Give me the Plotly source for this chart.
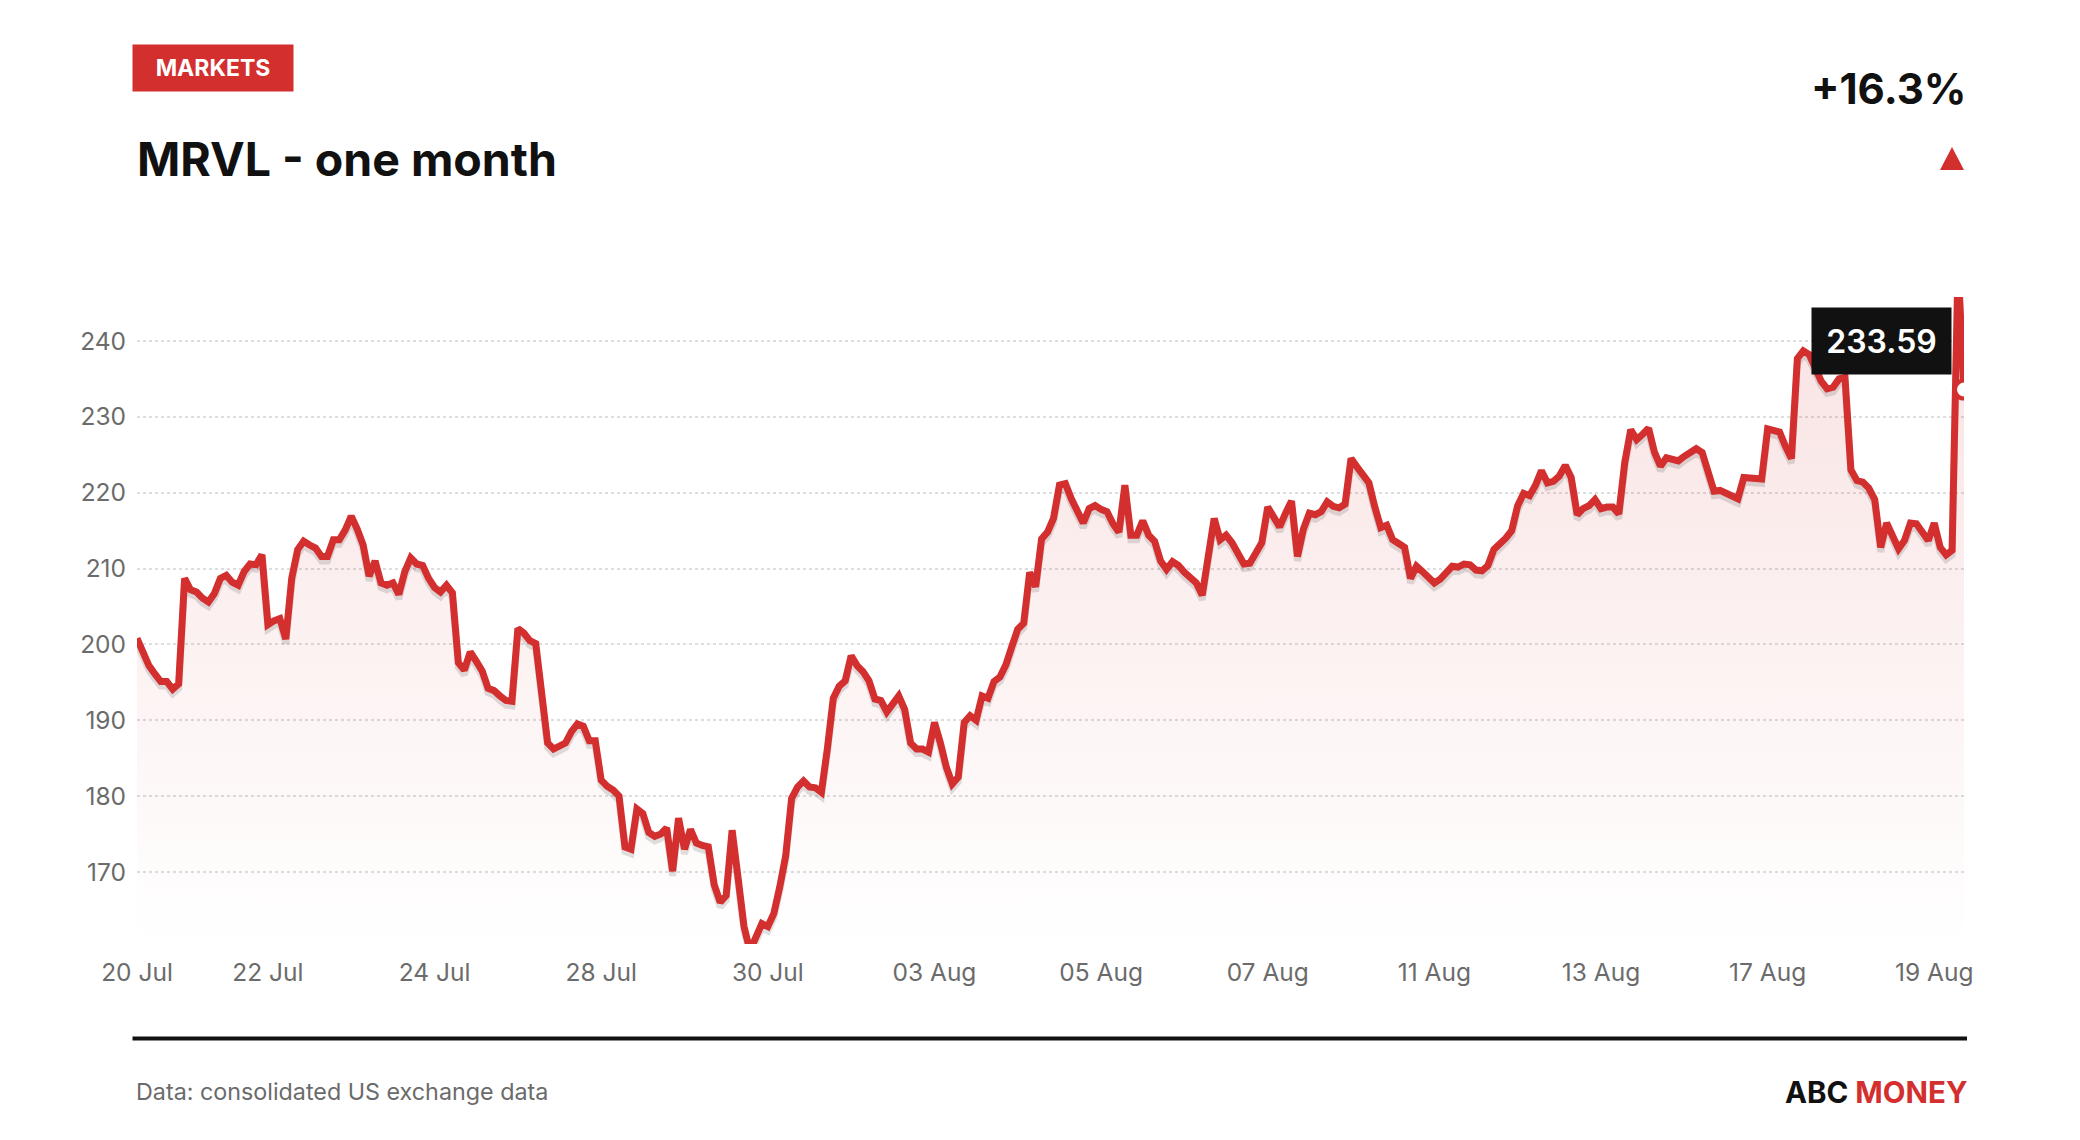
import plotly.graph_objects as go

# trading sessions shown on the axis and number of 30-minute bars in each
sessions = [
    "20 Jul", "21 Jul", "22 Jul", "23 Jul", "24 Jul", "27 Jul", "28 Jul", "29 Jul",
    "30 Jul", "31 Jul", "03 Aug", "04 Aug", "05 Aug", "06 Aug", "07 Aug", "10 Aug",
    "11 Aug", "12 Aug", "13 Aug", "14 Aug", "17 Aug", "18 Aug", "19 Aug",
]
bars_per_session = [8, 14, 14, 14, 14, 14, 14, 14, 14, 14, 14, 14,
                    14, 14, 14, 14, 14, 14, 14, 14, 14, 14, 6]

# MRVL price, 30 minute bars
prices = [
    # 20 Jul
    200.8, 198.7, 197.2, 196.1, 195.1, 195.1, 194.1, 194.8,
    # 21 Jul
    208.7, 207.2, 206.9, 206.1, 205.6, 206.7, 208.7, 209.1, 208.2, 207.8, 209.6, 210.6, 210.5, 211.8,
    # 22 Jul
    202.6, 203.1, 203.4, 200.7, 208.7, 212.5, 213.6, 213.1, 212.7, 211.6, 211.6, 213.8, 213.8, 215.1,
    # 23 Jul
    216.9, 215.2, 213.1, 209.0, 211.0, 208.1, 207.8, 208.1, 206.6, 209.6, 211.4, 210.6, 210.4, 208.7,
    # 24 Jul
    207.5, 206.9, 207.8, 206.8, 197.6, 196.6, 199.0, 197.8, 196.5, 194.2, 193.9, 193.2, 192.6, 192.5,
    # 27 Jul
    202.1, 201.5, 200.5, 200.1, 194.0, 187.0, 186.2, 186.6, 187.0, 188.5, 189.5, 189.2, 187.3, 187.3,
    # 28 Jul
    182.1, 181.3, 180.8, 180.0, 173.3, 173.0, 178.3, 177.7, 175.2, 174.7, 175.0, 175.8, 170.1, 177.1,
    # 29 Jul
    173.0, 175.6, 173.8, 173.5, 173.3, 168.3, 166.0, 166.9, 175.5, 169.2, 162.8, 159.6, 161.6, 163.2,
    # 30 Jul
    162.8, 164.5, 168.0, 172.1, 179.7, 181.2, 182.0, 181.2, 181.1, 180.5, 186.2, 192.9, 194.5, 195.2,
    # 31 Jul
    198.5, 197.2, 196.4, 195.2, 192.8, 192.6, 191.1, 192.1, 193.2, 191.4, 187.0, 186.2, 186.2, 185.8,
    # 03 Aug
    189.7, 187.0, 183.8, 181.6, 182.5, 189.7, 190.6, 190.0, 193.2, 192.9, 195.1, 195.7, 197.3, 199.7,
    # 04 Aug
    202.0, 202.8, 209.5, 207.6, 213.9, 214.8, 216.6, 221.0, 221.2, 219.2, 217.8, 216.0, 217.9, 218.3,
    # 05 Aug
    217.8, 217.5, 215.9, 214.8, 221.0, 214.4, 214.4, 216.3, 214.4, 213.6, 211.0, 209.9, 210.9, 210.4,
    # 06 Aug
    209.5, 208.7, 208.1, 206.5, 211.5, 216.6, 213.8, 214.4, 213.4, 212.2, 210.6, 210.7, 212.3, 213.4,
    # 07 Aug
    218.1, 216.6, 215.5, 217.3, 218.9, 211.6, 215.2, 217.3, 217.1, 217.5, 218.8, 218.2, 218.0, 218.5,
    # 10 Aug
    224.5, 223.4, 222.3, 221.3, 218.1, 215.4, 215.7, 213.8, 213.3, 212.8, 208.7, 210.3, 209.6, 208.8,
    # 11 Aug
    208.1, 208.6, 209.6, 210.3, 210.2, 210.6, 210.5, 209.8, 209.7, 210.4, 212.5, 213.2, 214.0, 215.0,
    # 12 Aug
    218.3, 219.9, 219.6, 221.0, 222.9, 221.3, 221.5, 222.2, 223.6, 222.0, 217.1, 217.9, 218.3, 219.1,
    # 13 Aug
    217.9, 218.1, 218.1, 217.2, 224.0, 228.3, 227.0, 227.7, 228.5, 225.3, 223.5, 224.6, 224.4, 224.2,
    # 14 Aug
    224.8, 225.4, 225.8, 225.3, 222.4, 220.2, 220.3, 219.9, 219.6, 219.2, 222.0, 221.9, 221.9, 221.8,
    # 17 Aug
    228.4, 228.3, 228.0, 226.1, 224.5, 237.7, 238.7, 238.2, 236.5, 234.7, 233.7, 233.9, 235.0, 235.2,
    # 18 Aug
    223.0, 221.6, 221.4, 220.6, 219.1, 212.8, 216.0, 214.4, 212.6, 213.7, 216.0, 215.9, 214.8, 213.7,
    # 19 Aug
    216.0, 212.8, 211.8, 212.4, 250.0, 233.59,
]

y_ticks = [170, 180, 190, 200, 210, 220, 230, 240]
y_range = [160.5, 245.8]
change_label = "+16.3%"

RED = "#d32f2f"
INK = "#111111"
GREY = "#6b6b6b"
FONT = "Inter"

W, H = 2080, 1140
L, R, T, B = 129, 124, 289, 204


def px(xp):
    return (xp - L) / (W - L - R)


def py(yp):
    return (H - B - yp) / (H - T - B)


x = list(range(len(prices)))

# first bar of every session, label every second one
starts = []
pos = 0
for n in bars_per_session:
    starts.append(pos)
    pos += n
tickvals = starts[::2]
ticktext = sessions[::2]

shadow_shift = 0.6

fig = go.Figure()

fig.add_trace(go.Scatter(
    x=x, y=prices, mode="lines", line=dict(width=0, color="rgba(0,0,0,0)"),
    fill="tozeroy",
    fillgradient=dict(type="vertical", start=y_range[0], stop=240,
                      colorscale=[[0, "rgba(211,47,47,0.0)"], [1, "rgba(211,47,47,0.13)"]]),
    hoverinfo="skip", yaxis="y",
))
fig.add_trace(go.Scatter(
    x=x, y=prices, mode="lines", line=dict(width=7, color="rgba(0,0,0,0.12)"),
    hoverinfo="skip", yaxis="y2",
))
fig.add_trace(go.Scatter(
    x=x, y=prices, mode="lines", line=dict(width=7, color=RED),
    yaxis="y3",
))
fig.add_trace(go.Scatter(
    x=[x[-1]], y=[prices[-1]], mode="markers",
    marker=dict(size=18, color="white", line=dict(width=4, color=RED)),
    yaxis="y3",
))

annotations = [
    dict(text="<b>MARKETS</b>", xref="paper", yref="paper", x=px(205), y=py(60),
         xanchor="center", yanchor="middle", showarrow=False, bgcolor=RED,
         width=160, height=46, borderpad=0, font=dict(family=FONT, size=23, color="white")),
    dict(text="<b>MRVL - one month</b>", xref="paper", yref="paper", x=px(127), y=py(151),
         xanchor="left", yanchor="middle", showarrow=False,
         font=dict(family=FONT, size=46.5, color=INK)),
    dict(text="<b>%s</b>" % change_label, xref="paper", yref="paper", x=px(1960), y=py(81),
         xanchor="right", yanchor="middle", showarrow=False,
         font=dict(family=FONT, size=42, color=INK)),
    dict(text="%.2f" % prices[-1], xref="x", yref="y3", x=x[-1], y=prices[-1],
         xanchor="right", yanchor="middle", xshift=-12, yshift=49, showarrow=False,
         bgcolor=INK, width=139, height=66, borderpad=0,
         font=dict(family=FONT, size=32, color="white", weight=600)),
    dict(text="Data: consolidated US exchange data", xref="paper", yref="paper",
         x=px(126), y=py(1083.5), xanchor="left", yanchor="middle", showarrow=False,
         font=dict(family=FONT, size=23.3, color=GREY)),
    dict(text="<b>ABC <span style='color:%s'>MONEY</span></b>" % RED, xref="paper", yref="paper",
         x=px(1962), y=py(1083.5), xanchor="right", yanchor="middle", showarrow=False,
         font=dict(family=FONT, size=29.5, color=INK)),
]

shapes = [
    dict(type="path", xref="paper", yref="paper",
         path="M %f,%f L %f,%f L %f,%f Z" % (px(1932), py(162), px(1956), py(162), px(1944), py(139)),
         fillcolor=RED, line=dict(width=0)),
    dict(type="line", xref="paper", yref="paper", x0=px(124.5), x1=px(1959), y0=py(1030.5), y1=py(1030.5),
         line=dict(color=INK, width=4)),
]

fig.update_layout(
    width=W, height=H,
    margin=dict(l=L, r=R, t=T, b=B),
    paper_bgcolor="white", plot_bgcolor="white",
    showlegend=False,
    font=dict(family=FONT, color=GREY),
    xaxis=dict(range=[0, len(prices) - 1], tickvals=tickvals, ticktext=ticktext,
               showgrid=False, zeroline=False, showline=False, ticks="",
               ticklabelstandoff=11, automargin=False,
               tickfont=dict(family=FONT, size=24.5, color=GREY)),
    yaxis=dict(range=y_range, tickvals=y_ticks, showgrid=True, gridcolor="#dddddd",
               griddash="dot", gridwidth=2, zeroline=False, showline=False, ticks="",
               ticklabelstandoff=10, automargin=False,
               tickfont=dict(family=FONT, size=24.5, color=GREY)),
    yaxis2=dict(range=[y_range[0] + shadow_shift, y_range[1] + shadow_shift],
                overlaying="y", visible=False),
    yaxis3=dict(range=y_range, overlaying="y", visible=False),
    annotations=annotations,
    shapes=shapes,
)

fig.write_html("out.html")
